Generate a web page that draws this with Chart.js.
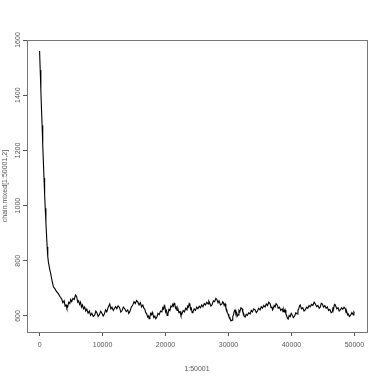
<!DOCTYPE html>
<html>
<head>
<meta charset="utf-8">
<script src="https://cdn.jsdelivr.net/npm/chart.js@4/dist/chart.umd.min.js"></script>
<style>
  html, body { margin: 0; padding: 0; background: #fff; }
  #wrap { width: 382px; height: 382px; }
</style>
</head>
<body>
<div id="wrap"><canvas id="traceChart" width="382" height="382"></canvas></div>
<script>
const iterations = [
  0, 100, 200, 300, 400, 500, 600, 700, 800, 900, 1000, 1100, 1200, 1300, 1400, 1600, 1800, 2000,
  2200, 2400, 2700, 3000, 3300,
  3500, 3700, 3900, 4050, 4200, 4330, 4460, 4630, 4800, 4950, 5100, 5300, 5500, 5700, 5890, 6050,
  6200, 6350, 6500, 6650, 6800, 6980, 7160, 7330, 7500, 7700, 7900, 8100, 8300, 8530, 8760, 8930,
  9100, 9300, 9500, 9700, 9900, 10100, 10300, 10480, 10670, 10900, 11140, 11320, 11500, 11700, 11900,
  12080, 12260, 12480, 12700, 12900, 13100, 13300, 13530, 13760, 14000, 14160, 14330, 14560, 14800,
  15000, 15200, 15400, 15600, 15800, 16000, 16200, 16400, 16550, 16700, 16860, 17030, 17160, 17300,
  17400, 17510, 17650, 17800, 17900, 17990, 18150, 18300, 18460, 18630, 18800, 19000, 19200, 19420,
  19560, 19700, 19800, 19900, 20030, 20150, 20260, 20380, 20540, 20700, 20850, 21010, 21130, 21250,
  21370, 21490, 21600, 21700, 21830, 21970, 22140, 22300, 22450, 22610, 22800, 23000, 23200, 23400,
  23520, 23650, 23760, 23880, 23990, 24100, 24230, 24360, 24550, 24750, 24950, 25150, 25350, 25550,
  25750, 25950, 26150, 26350, 26550, 26750, 26870, 27000, 27200, 27380, 27600, 27800, 28000, 28180,
  28340, 28500, 28730, 28970, 29080, 29200, 29320, 29450, 29580, 29700, 29820, 29930, 30060, 30200,
  30380, 30570, 30680, 30800, 30920, 31040, 31170, 31300, 31410, 31520, 31660, 31800, 31980, 32160,
  32280, 32400, 32520, 32640, 32820, 33000, 33220, 33430, 33620, 33800, 34010, 34230, 34420, 34600,
  34800, 35020, 35200, 35400, 35600, 35820, 36000, 36200, 36400, 36620, 36760, 36900, 37000, 37090,
  37250, 37400, 37560, 37730, 37900, 38100, 38300, 38530, 38660, 38800, 38900, 39000, 39120, 39250,
  39370, 39480, 39640, 39800, 39960, 40120, 40300, 40500, 40700, 40910, 41030, 41150, 41270, 41390,
  41600, 41800, 42000, 42190, 42400, 42600, 42800, 42980, 43200, 43400, 43600, 43780, 44000, 44200,
  44400, 44580, 44740, 44890, 45100, 45300, 45500, 45690, 45900, 46100, 46300, 46490, 46600, 46700,
  46830, 46960, 47200, 47400, 47580, 47760, 47950, 48150, 48350, 48560, 48680, 48800, 48920, 49030,
  49200, 49400, 49600, 49830, 49920, 50000
];
const chainValues = [
  1560, 1490, 1420, 1350, 1290, 1220, 1160, 1100, 1040, 990, 940, 895, 850, 815, 795, 770, 750, 725,
  705, 700, 688, 680, 668,
  662, 648, 655, 636, 640, 628, 633, 650, 645, 660, 652, 664, 660, 676, 670, 650,
  655, 642, 650, 632, 640, 626, 633, 618, 625, 610, 618, 602, 610, 598, 604, 618,
  612, 598, 605, 617, 610, 600, 608, 622, 615, 632, 644, 626, 632, 620, 628,
  634, 626, 637, 630, 614, 620, 632, 626, 616, 622, 609, 615, 632, 640,
  652, 645, 656, 651, 640, 648, 633, 640, 628, 625, 612, 607, 596, 600,
  590, 596, 610, 605, 613, 607, 594, 600, 590, 596, 610, 605, 618, 615,
  630, 625, 638, 633, 614, 620, 602, 607, 624, 620, 636, 633, 642, 636,
  646, 640, 628, 632, 620, 626, 612, 616, 602, 607, 620, 615, 628, 622,
  636, 632, 645, 640, 624, 628, 612, 615, 626, 620, 632, 626, 635, 630,
  640, 633, 645, 640, 650, 644, 654, 648, 636, 640, 655, 652, 664, 659,
  648, 655, 640, 644, 652, 648, 638, 644, 630, 625, 612, 607, 598, 595,
  582, 585, 598, 605, 618, 622, 608, 612, 600, 604, 620, 615, 630, 626,
  614, 610, 598, 596, 606, 602, 612, 607, 620, 615, 626, 622, 612, 618,
  628, 622, 634, 628, 638, 633, 644, 638, 650, 644, 630, 634, 622, 626,
  638, 633, 645, 640, 628, 632, 620, 626, 616, 624, 616, 622, 608, 600,
  592, 589, 602, 598, 610, 604, 594, 600, 612, 607, 620, 625, 636, 640,
  626, 630, 618, 622, 632, 628, 638, 633, 642, 638, 650, 644, 634, 638,
  628, 633, 646, 644, 632, 638, 628, 633, 620, 624, 612, 615, 630, 628,
  642, 640, 626, 630, 618, 622, 630, 624, 632, 626, 612, 615, 604, 607,
  598, 603, 612, 604, 615, 612
];
const xTicks = [0, 10000, 20000, 30000, 40000, 50000];
const yTicks = [600, 800, 1000, 1200, 1400, 1600];
const xTitle = '1:50001';
const yTitle = 'chain.mixed[1:50001,2]';

const points = iterations.map((it, i) => ({ x: it, y: chainValues[i] }));

const axisGrey = '#555';
const font = { family: 'Liberation Sans, Arial, sans-serif', size: 7 };

// R-style box around the plotting region
const boxPlugin = {
  id: 'rbox',
  afterDraw(chart) {
    const a = chart.chartArea;
    const ctx = chart.ctx;
    ctx.save();
    ctx.strokeStyle = '#777';
    ctx.lineWidth = 1;
    ctx.strokeRect(Math.round(a.left) + 0.5, Math.round(a.top) + 0.5,
      Math.round(a.right - a.left), Math.round(a.bottom - a.top));
    ctx.restore();
  }
};

new Chart(document.getElementById('traceChart').getContext('2d'), {
  type: 'line',
  data: {
    datasets: [{
      data: points,
      borderColor: '#000',
      borderWidth: 1.1,
      pointRadius: 0,
      tension: 0,
      fill: false
    }]
  },
  options: {
    responsive: false,
    animation: false,
    layout: { padding: { top: 40, right: 15, left: 0, bottom: 0 } },
    plugins: { legend: { display: false }, tooltip: { enabled: false } },
    scales: {
      x: {
        type: 'linear',
        min: -2000,
        max: 52000,
        afterBuildTicks: (s) => { s.ticks = xTicks.map(v => ({ value: v })); },
        afterFit: (s) => { s.height = 50; },
        grid: { display: true, drawOnChartArea: false, drawTicks: true, tickLength: 4, color: axisGrey },
        border: { display: true, color: '#777' },
        ticks: { color: axisGrey, font: font, padding: 5, maxRotation: 0, autoSkip: false,
          callback: (v) => String(v) },
        title: { display: true, text: xTitle, color: axisGrey, font: font, padding: { top: 0, bottom: 9 } }
      },
      y: {
        type: 'linear',
        min: 542,
        max: 1600,
        afterBuildTicks: (s) => { s.ticks = yTicks.map(v => ({ value: v })); },
        afterFit: (s) => { s.width = 27; },
        grid: { display: true, drawOnChartArea: false, drawTicks: true, tickLength: 4, color: axisGrey },
        border: { display: true, color: '#777' },
        ticks: { color: axisGrey, font: font, padding: -3, minRotation: 90, maxRotation: 90, crossAlign: 'center', autoSkip: false,
          callback: (v) => String(v) },
        title: { display: true, text: yTitle, color: axisGrey, font: font, padding: { top: 1, bottom: 0 } }
      }
    }
  },
  plugins: [boxPlugin]
});
</script>
</body>
</html>
